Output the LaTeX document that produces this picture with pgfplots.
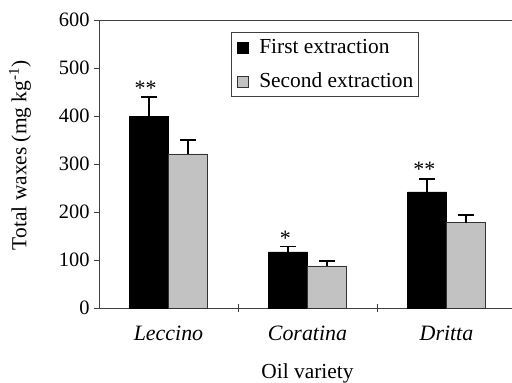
\documentclass[border=0pt]{standalone}
\usepackage{fontspec}
\setmainfont{Liberation Serif}
\usepackage{pgfplots}
\pgfplotsset{compat=1.18}
\begin{document}
\begin{tikzpicture}
\begin{axis}[
  scale only axis, width=417bp, height=288bp,
  xmin=-0.5, xmax=2.5, ymin=0, ymax=600,
  axis x line*=bottom, axis y line*=left,
  axis line style={black!75, line width=0.7bp},
  ybar=0pt, bar width=39bp,
  xtick={0,1,2}, xticklabels={Leccino,Coratina,Dritta},
  xticklabel style={font=\fontsize{22}{26}\selectfont\itshape, yshift=-9bp},
  xtick style={draw=none},
  extra x ticks={0.5,1.5}, extra x tick labels={},
  extra x tick style={xtick style={draw=black!75, line width=0.7bp}, tick align=center, major tick length=8bp},
  ytick={0,100,...,600},
  ytick style={draw=black!75, line width=0.7bp},
  tick align=outside, major tick length=5bp,
  yticklabel style={font=\fontsize{20.5}{24}\selectfont, xshift=-1bp},
  /pgf/number format/assume math mode=true,
  ylabel={Total waxes (mg kg\textsuperscript{-1})},
  every axis y label/.style={at={([xshift=-79bp]rel axis cs:0,0.53)}, rotate=90, anchor=center, font=\fontsize{21.5}{25}\selectfont},
  xlabel={Oil variety},
  every axis x label/.style={at={([yshift=-65bp]rel axis cs:0.5,0)}, anchor=center, font=\fontsize{21.5}{25}\selectfont},
  legend style={at={(0.3165,0.958)}, anchor=north west, draw=black!75, line width=0.6bp,
    font=\fontsize{21.5}{25}\selectfont, inner xsep=3bp, inner ysep=5bp, row sep=14bp},
  legend cell align=left,
  legend image code/.code={\draw[#1, line width=0.4bp] (3bp,-5.5bp) rectangle (14bp,5.5bp); \path[draw=none, fill=none] (0bp,0bp) -- (23bp,0bp);},
]
\addplot[fill=black, draw=black,
  error bars/.cd, y dir=plus, y explicit,
  error bar style={line width=1.4bp, black},
  error mark options={rotate=90, mark size=8bp, line width=1.4bp, black}]
  coordinates {(0,400) +- (0,40) (1,117) +- (0,11) (2,242) +- (0,27)};
\addplot[fill=black!24, draw=black!80, line width=0.4bp,
  error bars/.cd, y dir=plus, y explicit,
  error bar style={line width=1.4bp, black},
  error mark options={rotate=90, mark size=8bp, line width=1.4bp, black}]
  coordinates {(0,321) +- (0,29) (1,88) +- (0,10) (2,178) +- (0,16)};
\legend{First extraction, Second extraction}
\draw[black!75, line width=0.7bp] (rel axis cs:0,1) -- (rel axis cs:1,1);
\node[font=\fontsize{22}{26}\selectfont] at (axis cs:-0.165,458) {**};
\node[font=\fontsize{22}{26}\selectfont] at (axis cs:0.84,146) {*};
\node[font=\fontsize{22}{26}\selectfont] at (axis cs:1.84,288) {**};
\coordinate (bl) at (rel axis cs:0,0);
\end{axis}
\pgfresetboundingbox
\path (bl) ++(-99bp,-75bp) rectangle ++(512bp,383bp);
\end{tikzpicture}
\end{document}
